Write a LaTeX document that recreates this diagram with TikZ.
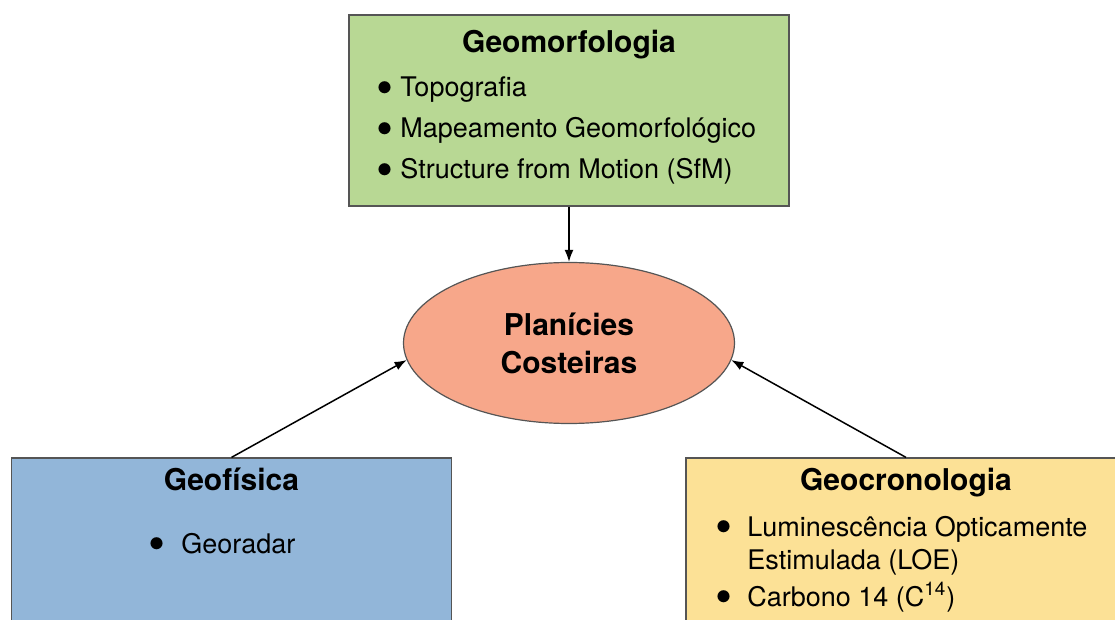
\documentclass[tikz,border=0pt]{standalone}
\usepackage{fontspec}
\setmainfont{TeX Gyre Heros}
\usetikzlibrary{shapes.geometric, arrows.meta}
\definecolor{verde}{RGB}{184,216,148}
\definecolor{salmao}{RGB}{247,167,138}
\definecolor{azul}{RGB}{146,182,217}
\definecolor{amarelo}{RGB}{252,225,150}
\definecolor{borda}{RGB}{85,85,85}
\newcommand{\itm}[2][12pt]{\makebox[#1][l]{\smash{\raisebox{-0.55ex}{\scalebox{1.8}{\textbullet}}}}#2}
\begin{document}
\begin{tikzpicture}[x=0.5pt, y=-0.5pt,
	caixa/.style={draw=borda, line width=0.6pt, minimum width=220pt, minimum height=95.5pt, inner sep=0},
	titulo/.style={font=\fontsize{15}{18}\selectfont\bfseries, anchor=base, inner sep=0},
	lista/.style={font=\fontsize{13.5}{16.5}\selectfont, align=left, anchor=base west, inner sep=0},
	seta/.style={->, >={Latex[length=6pt, width=4.5pt]}, line width=0.75pt}]
	\clip (0,0) rectangle (1115,620);
	% caixas
	\node[caixa, fill=verde] (geomorf) at (569, 110.5) {};
	\node[caixa, fill=azul] (geofis) at (231.5, 553.5) {};
	\node[caixa, fill=amarelo] (geocron) at (906, 553.5) {};
	\node[ellipse, draw=borda, line width=0.6pt, fill=salmao, minimum width=165.5pt, minimum height=80.5pt, inner sep=0, align=center,
		font=\fontsize{15}{19}\selectfont\bfseries] (planicies) at (569, 343) {Planícies\\Costeiras};
	% textos (ancora na ultima linha)
	\node[titulo] (tgeomorf) at (569, 53) {Geomorfologia};
	\node[lista] (lgeomorf) at (376, 179) {\itm{Topografia}\\[3.75pt]
		\itm{Mapeamento Geomorfológico}\\[4.25pt]
		\itm{Structure from Motion (SfM)}};
	\node[titulo] (tgeofis) at (231.5, 491) {Geofísica};
	\node[lista] (lgeofis) at (148, 553) {\itm[16.5pt]{Georadar}};
	\node[titulo] (tgeocron) at (906, 491) {Geocronologia};
	\node[lista] (lgeocron) at (715, 606) {\itm[16pt]{Luminescência Opticamente}\\
		\hspace*{16pt}Estimulada (LOE)\\[2pt]
		\itm[16pt]{Carbono 14 (C\textsuperscript{14})}};
	% setas
	\draw[seta] (geomorf.south) -- (planicies.north);
	\draw[seta] (geofis.north) -- (planicies.186);
	\draw[seta] (geocron.north) -- (planicies.354);
\end{tikzpicture}
\end{document}
